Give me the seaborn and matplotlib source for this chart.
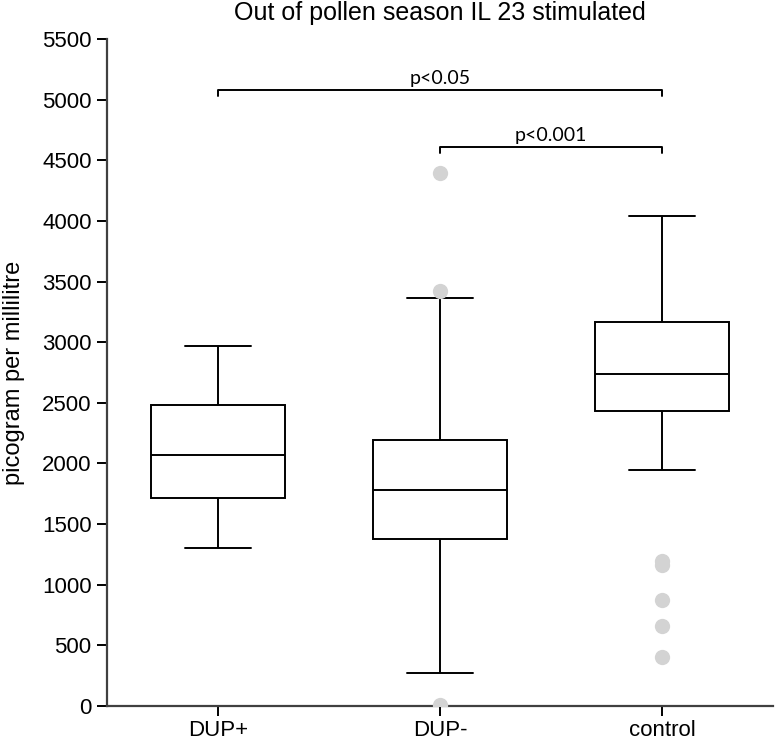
import pandas as pd
import numpy as np
import matplotlib
matplotlib.use('Agg')
import matplotlib.pyplot as plt
import seaborn as sns

# 그룹과 박스 요약값 (min whisker, Q1, median, Q3, max whisker)
groups = ['DUP+', 'DUP-', 'control']
whisker_low = [1300, 275, 1949]
q1 = [1715, 1377, 2433]
median = [2070, 1784, 2740]
q3 = [2480, 2191, 3169]
whisker_high = [2971, 3367, 4040]

# 이상치
outlier_group = ['DUP-', 'DUP-', 'DUP-', 'control', 'control', 'control', 'control', 'control']
outlier_value = [4393, 3425, 10, 1192, 1162, 874, 660, 402]

# 유의성 표시
sig_pairs = [('DUP+', 'control'), ('DUP-', 'control')]
sig_height = [5080, 4612]
sig_text = ['p<0.05', 'p<0.001']

y_ticks = list(range(0, 5501, 500))

# 5개 요약값으로 상자 그리기 (whis=(0,100) -> 수염 = 최소/최대)
rows = []
for i, g in enumerate(groups):
    for v in [whisker_low[i], q1[i], median[i], q3[i], whisker_high[i]]:
        rows.append({'group': g, 'value': v})
df = pd.DataFrame(rows)
df_out = pd.DataFrame({'group': outlier_group, 'value': outlier_value})

sns.set_style('white')
plt.rcParams['font.family'] = ['Liberation Sans', 'DejaVu Sans']
plt.rcParams['text.color'] = 'black'
plt.rcParams['axes.labelcolor'] = 'black'
plt.rcParams['xtick.color'] = 'black'
plt.rcParams['ytick.color'] = 'black'

fig = plt.figure(figsize=(7.75, 7.41), dpi=100)
ax = fig.add_axes([0.138, 0.0472, 0.8594, 0.9002])

line_kw = dict(color='black', linewidth=1.4)
sns.boxplot(data=df, x='group', y='value', order=groups, whis=(0, 100),
            width=0.6, color='white', linecolor='black', linewidth=1.4,
            fliersize=0, ax=ax,
            boxprops=dict(facecolor='white', edgecolor='black', linewidth=1.4),
            medianprops=line_kw, whiskerprops=line_kw, capprops=line_kw)
sns.stripplot(data=df_out, x='group', y='value', order=groups, jitter=False,
              color='#d3d3d3', size=11, linewidth=0, ax=ax, zorder=5)

# 유의성 괄호
for (a, b), h, t in zip(sig_pairs, sig_height, sig_text):
    xa, xb = groups.index(a), groups.index(b)
    ax.plot([xa, xa, xb, xb], [h - 50, h, h, h - 50], color='black', linewidth=1.4)
    ax.text((xa + xb) / 2, h + 25, t, ha='center', va='bottom', fontsize=14,
            color='black', family=['Lato', 'DejaVu Sans'])

ax.set_xlim(-0.5, 2.5)
ax.set_ylim(0, 5500)
ax.set_yticks(y_ticks)
ax.set_xlabel('')
ax.set_ylabel('picogram per millilitre', fontsize=17, labelpad=12)
ax.set_title('Out of pollen season IL 23 stimulated', fontsize=18, pad=14)
ax.tick_params(axis='both', labelsize=16, length=7, width=1.4,
               direction='out', bottom=True, left=True)
ax.tick_params(axis='x', pad=3)
ax.tick_params(axis='y', pad=4)
for t in ax.get_xticklines() + ax.get_yticklines():
    t.set_color('#404040')
sns.despine(ax=ax)
for s in ['left', 'bottom']:
    ax.spines[s].set_color('#404040')
    ax.spines[s].set_linewidth(1.6)

fig.savefig('out.png', dpi=100)
